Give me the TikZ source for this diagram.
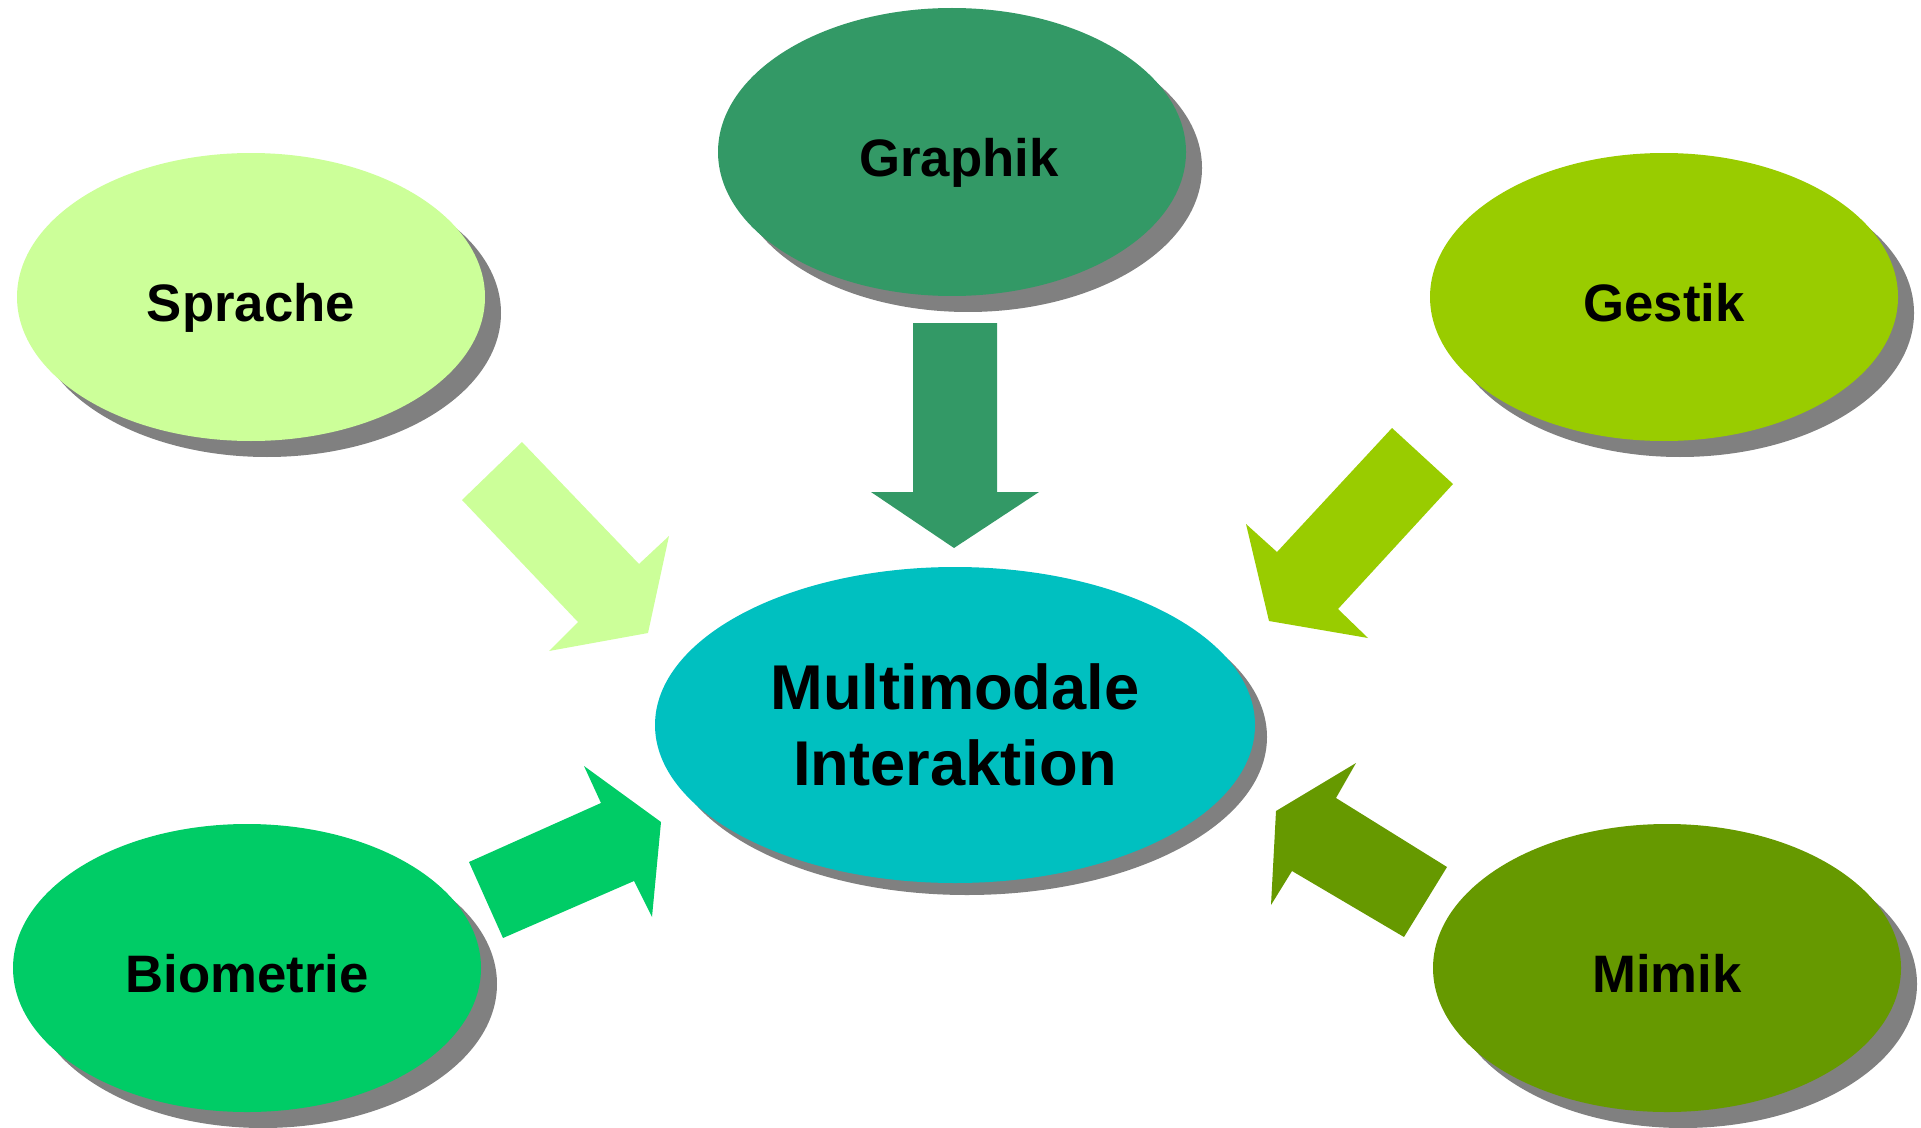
\documentclass[tikz,border=0pt]{standalone}
\usepackage{fontspec}
\setmainfont{Liberation Sans}
\usetikzlibrary{shapes,shadows}

\definecolor{graphikc}{HTML}{339966}
\definecolor{sprachec}{HTML}{CCFF99}
\definecolor{gestikc}{HTML}{99CC00}
\definecolor{biometriec}{HTML}{00CC66}
\definecolor{mimikc}{HTML}{669900}
\definecolor{mmc}{HTML}{00C0C0}
\definecolor{schatten}{HTML}{808080}

\begin{document}
\begin{tikzpicture}[x=0.1mm,y=-0.1mm]
            \tikzstyle{mod}=[ellipse,inner sep=0pt,minimum width=46.8mm,minimum height=28.8mm,
              font=\bfseries\fontsize{15}{18}\selectfont,text height=15pt,text depth=0.8pt,
              drop shadow={shadow xshift=1.6mm,shadow yshift=-1.6mm,fill=schatten,opacity=1}]
            \tikzstyle{zentrum}=[ellipse,inner sep=0pt,minimum width=60mm,minimum height=31.6mm,
              align=center,font=\bfseries\fontsize{18}{21.5}\selectfont,
              drop shadow={shadow xshift=1.2mm,shadow yshift=-1.2mm,fill=schatten,opacity=1}]
            \useasboundingbox (0,0) rectangle (1921,1128);

            % Modalitaeten
            \node [mod,fill=graphikc] (gra) at (952,152) {\hspace{1.4mm}Graphik};
            \node [mod,fill=sprachec] (spr) at (251,297) {Sprache};
            \node [mod,fill=gestikc] (ges) at (1664,297) {Gestik};
            \node [mod,fill=biometriec] (bio) at (247,968) {Biometrie};
            \node [mod,fill=mimikc] (mim) at (1667,968) {Mimik};
            \node [zentrum,fill=mmc] (mm) at (955,725) {Multimodale\\Interaktion};

            % Blockpfeile
            \fill [graphikc] (913,323) -- (997,323) -- (997,492) -- (1039,492)
              -- (954,548) -- (871,492) -- (913,492) -- cycle;
            \fill [sprachec] (522,442) -- (639,564) -- (669,536) -- (648,633)
              -- (549,651) -- (578,622) -- (462,500) -- cycle;
            \fill [gestikc] (1392,428) -- (1453,484) -- (1338,609) -- (1368,638)
              -- (1269,621) -- (1246,524) -- (1277,552) -- cycle;
            \fill [biometriec] (469,862) -- (601,803) -- (584,766) -- (661,822)
              -- (652,917) -- (634,881) -- (503,938) -- cycle;
            \fill [mimikc] (1447,867) -- (1404,937) -- (1292,871) -- (1271,905)
              -- (1276,811) -- (1356,763) -- (1336,798) -- cycle;
\end{tikzpicture}
\end{document}
